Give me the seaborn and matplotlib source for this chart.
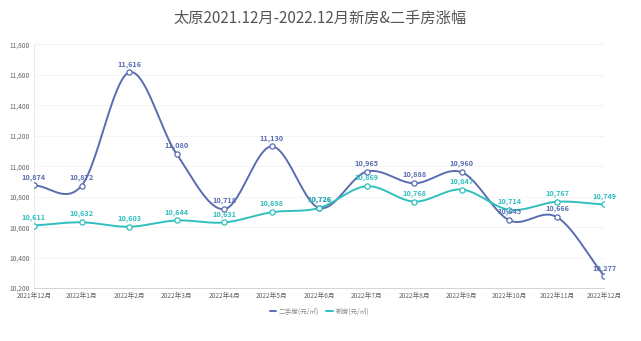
import numpy as np
import pandas as pd
import matplotlib
matplotlib.use("Agg")
import matplotlib.pyplot as plt
import seaborn as sns

months = ["2021年12月", "2022年1月", "2022年2月", "2022年3月", "2022年4月", "2022年5月",
          "2022年6月", "2022年7月", "2022年8月", "2022年9月", "2022年10月", "2022年11月", "2022年12月"]
second_hand = [10874, 10872, 11616, 11080, 10718, 11130, 10726, 10965, 10888, 10960, 10645, 10666, 10277]
new_home = [10611, 10632, 10603, 10644, 10631, 10698, 10726, 10869, 10768, 10847, 10714, 10767, 10749]
y_ticks = [10200, 10400, 10600, 10800, 11000, 11200, 11400, 11600, 11800]

series = [("二手房(元/㎡)", second_hand, "#5A6DB0"),
          ("新房(元/㎡)", new_home, "#2FBFBF")]

sns.set_theme(style="white")
plt.rcParams["font.family"] = ["Noto Sans CJK SC", "DejaVu Sans"]


def catmull_rom(y, n=40):
    """Smooth curve through the points (uniform Catmull-Rom)."""
    y = np.asarray(y, dtype=float)
    p = np.concatenate([[2 * y[0] - y[1]], y, [2 * y[-1] - y[-2]]])
    xs, ys = [], []
    for i in range(len(y) - 1):
        t = np.linspace(0, 1, n, endpoint=False)
        p0, p1, p2, p3 = p[i], p[i + 1], p[i + 2], p[i + 3]
        seg = 0.5 * ((2 * p1) + (-p0 + p2) * t + (2 * p0 - 5 * p1 + 4 * p2 - p3) * t ** 2
                     + (-p0 + 3 * p1 - 3 * p2 + p3) * t ** 3)
        xs.append(i + t)
        ys.append(seg)
    xs.append([len(y) - 1])
    ys.append([y[-1]])
    return np.concatenate(xs), np.concatenate(ys)


fig = plt.figure(figsize=(6.41, 3.41), dpi=100)
ax = fig.add_axes([0.053, 0.155, 0.89, 0.715])

x = np.arange(len(months))
for name, vals, color in series:
    sx, sy = catmull_rom(vals)
    sns.lineplot(x=sx, y=sy, ax=ax, color=color, linewidth=1.4, label=name, sort=False)
    sns.scatterplot(x=x, y=vals, ax=ax, s=14, facecolor="white", edgecolor=color,
                    linewidth=0.9, zorder=5, legend=False)
    for xi, v in zip(x, vals):
        ax.annotate(f"{v:,}", (xi, v), xytext=(0, 3.5), textcoords="offset points",
                    ha="center", va="bottom", fontsize=5.3, color=color,
                    fontweight="bold", zorder=6)

ax.set_xlim(0, len(months) - 1)
ax.set_ylim(10200, 11800)
ax.set_xticks(x)
ax.set_xticklabels(months)
ax.set_yticks(y_ticks)
ax.set_yticklabels([f"{t:,}" for t in y_ticks])
ax.tick_params(axis="both", labelsize=4.8, colors="#666666", length=0, pad=3)
ax.grid(axis="y", color="#F2F2F2", linewidth=0.6)
for side in ["top", "right"]:
    ax.spines[side].set_visible(False)
ax.spines["left"].set_color("#E3E3E3")
ax.spines["left"].set_linewidth(0.6)
ax.spines["bottom"].set_color("#CCCCCC")
ax.spines["bottom"].set_linewidth(0.6)
ax.set_xlabel("")
ax.set_ylabel("")
ax.margins(x=0)

leg = ax.legend(loc="upper center", bbox_to_anchor=(0.5, -0.055), ncol=2, frameon=False,
                fontsize=4.8, handlelength=1.0, columnspacing=1.0, handletextpad=0.4)
for t in leg.get_texts():
    t.set_color("#888888")

fig.suptitle("太原2021.12月-2022.12月新房&二手房涨幅", y=0.97, fontsize=11, color="#555555")

fig.savefig("out.png", dpi=100, facecolor="white")
